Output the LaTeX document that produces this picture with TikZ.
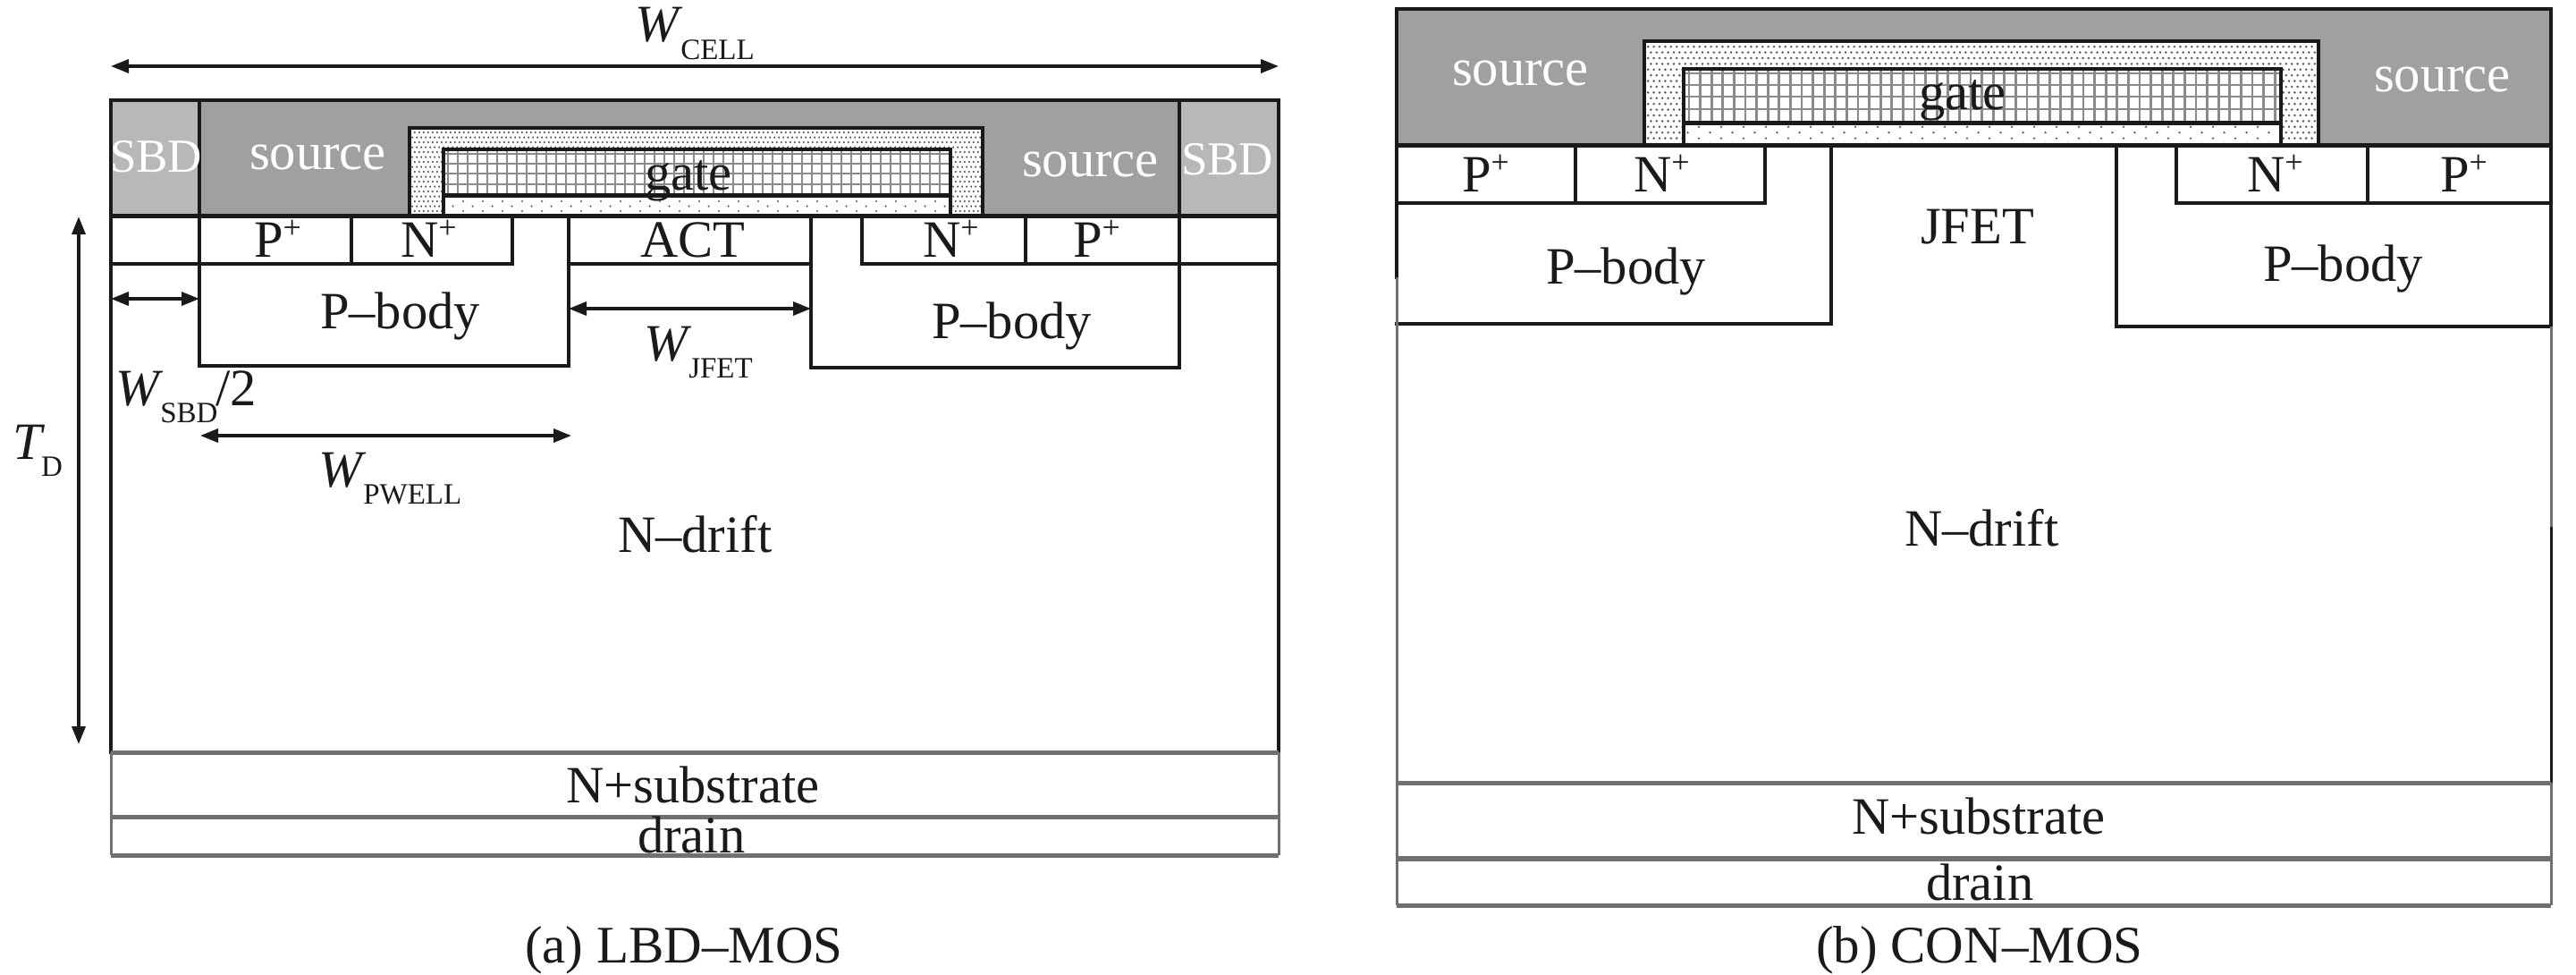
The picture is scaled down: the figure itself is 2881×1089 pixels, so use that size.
\documentclass[tikz,border=0pt]{standalone}
\usepackage{fontspec}
\setmainfont{Liberation Serif}
\usetikzlibrary{arrows.meta,patterns}
\definecolor{ink}{HTML}{1A1A1A}
\definecolor{edgegray}{HTML}{707070}
\definecolor{sourcefill}{HTML}{A0A0A0}
\definecolor{sbdfill}{HTML}{B8B8B8}
\definecolor{dotgray}{HTML}{5A5A5A}
\definecolor{gridgray}{HTML}{8A8A8A}
\pgfdeclarepatternformonly{denseL}{\pgfqpoint{-1pt}{-1pt}}{\pgfqpoint{1.7pt}{4.4pt}}{\pgfqpoint{2.7pt}{5.4pt}}{%
  \pgfpathcircle{\pgfqpoint{0pt}{0pt}}{0.65pt}\pgfpathcircle{\pgfqpoint{1.35pt}{2.7pt}}{0.65pt}\pgfusepath{fill}}
\pgfdeclarepatternformonly{sparseL}{\pgfqpoint{-1pt}{-1pt}}{\pgfqpoint{9.8pt}{4.4pt}}{\pgfqpoint{10.8pt}{5.4pt}}{%
  \pgfpathcircle{\pgfqpoint{0pt}{0pt}}{0.6pt}\pgfpathcircle{\pgfqpoint{5.4pt}{2.7pt}}{0.6pt}\pgfusepath{fill}}
\pgfdeclarepatternformonly{denseR}{\pgfqpoint{-1pt}{-1pt}}{\pgfqpoint{2.2pt}{5.4pt}}{\pgfqpoint{3.2pt}{6.4pt}}{%
  \pgfpathcircle{\pgfqpoint{0pt}{0pt}}{0.7pt}\pgfpathcircle{\pgfqpoint{1.6pt}{3.2pt}}{0.7pt}\pgfusepath{fill}}
\pgfdeclarepatternformonly{sparseR}{\pgfqpoint{-1pt}{-1pt}}{\pgfqpoint{11.5pt}{5.4pt}}{\pgfqpoint{12.5pt}{6.4pt}}{%
  \pgfpathcircle{\pgfqpoint{0pt}{0pt}}{0.65pt}\pgfpathcircle{\pgfqpoint{6.25pt}{3.2pt}}{0.65pt}\pgfusepath{fill}}
\newcommand\dimlab[4]{\textit{#1}\hspace{#4}\raisebox{#3}{\fontsize{16.5}{17}\selectfont #2}}
\newcommand\plus{\raisebox{10.5pt}{\fontsize{18}{18}\selectfont +}}
\tikzset{
  lbl/.style={anchor=base west,inner sep=0pt,outer sep=0pt,text=ink,font=\fontsize{29.3}{30}\selectfont},
  wlbl/.style={lbl,text=white},
  ln/.style={draw=ink,line width=1.75pt,line cap=rect},
  thn/.style={draw=ink,line width=1.5pt,line cap=rect},
  thk/.style={draw=ink,line width=2.5pt},
  gln/.style={draw=edgegray,line width=1.5pt},
  gthk/.style={draw=edgegray,line width=2.5pt},
  gridln/.style={draw=gridgray,line width=1.35pt},
  dimarrow/.style={draw=ink,line width=1.75pt,{Triangle[length=10pt,width=7.5pt]}-{Triangle[length=10pt,width=7.5pt]},shorten >=0pt,shorten <=0pt},
}
\begin{document}
\begin{tikzpicture}[x=0.5pt,y=-0.5pt]
\useasboundingbox (0,0) rectangle (2881,1089);
\fill[white] (0,0) rectangle (2881,1089);

% ---------- (a) LBD-MOS ----------
\fill[sbdfill] (124,112) rectangle (223,241);
\fill[sbdfill] (1319,112) rectangle (1430,241);
\fill[sourcefill] (223,112) rectangle (1319,241);
\fill[white] (458,143) rectangle (1099,241);
\path[pattern=denseL,pattern color=dotgray] (458,143) rectangle (1099,241);
\fill[white] (496,167) rectangle (1063,241);
\path[pattern=sparseL,pattern color=dotgray] (496,218) rectangle (1063,241);
\begin{scope}
\clip (496,167) rectangle (1063,218);
\foreach \gx in {501,512,...,1063} \draw[gridln] (\gx,167) -- (\gx,218);
\foreach \gy in {172,183,194,206} \draw[gridln] (496,\gy) -- (1063,\gy);
\end{scope}
\draw[ln] (458,241) -- (458,143) -- (1099,143) -- (1099,241);
\draw[ln] (496,241) -- (496,167) -- (1063,167) -- (1063,241);
\draw[thk] (496,218) -- (1063,218);
% outer and semiconductor
\draw[ln] (124,841) -- (124,112) -- (1430,112) -- (1430,841);
\draw[ln] (223,112) -- (223,409) -- (636,409) -- (636,241);
\draw[ln] (1319,112) -- (1319,411) -- (907,411) -- (907,241);
\draw[thk] (124,241) -- (1430,241);
\draw[ln] (124,295) -- (573,295) -- (573,241);
\draw[ln] (393,241) -- (393,295);
\draw[ln] (636,295) -- (907,295);
\draw[ln] (964,241) -- (964,295) -- (1430,295);
\draw[ln] (1147,241) -- (1147,295);
\draw[gthk] (124,841) -- (1430,841);
\draw[gthk] (124,913) -- (1430,913);
\draw[gthk] (124,956) -- (1430,956);
\draw[gln] (124,841) -- (124,956);
\draw[gln] (1430,841) -- (1430,956);

% dimension arrows
\coordinate (cellL) at (124,74);
\coordinate (cellR) at (1430,74);
\draw[dimarrow] (cellL) -- (cellR);
\coordinate (tdT) at (88,242);
\coordinate (tdB) at (88,832);
\draw[dimarrow] (tdT) -- (tdB);
\coordinate (sbdL) at (124,334);
\coordinate (sbdR) at (223,334);
\draw[dimarrow] (sbdL) -- (sbdR);
\coordinate (jfetL) at (636,345);
\coordinate (jfetR) at (907,345);
\draw[dimarrow] (jfetL) -- (jfetR);
\coordinate (pwellL) at (224,487);
\coordinate (pwellR) at (639,487);
\draw[dimarrow] (pwellL) -- (pwellR);

% labels (a)
\node[lbl] (wcell) at (710,46) {\dimlab{W}{CELL}{-10pt}{-1pt}};
\node[lbl] (td) at (14,513) {\dimlab{T}{D}{-9.5pt}{-2pt}};
\node[lbl] (wsbd) at (129,453) {\dimlab{W}{SBD}{-9.5pt}{-1.5pt}\hspace{-1pt}/2};
\node[lbl] (wjfet) at (720,403) {\dimlab{W}{JFET}{-9.5pt}{-1.5pt}};
\node[lbl] (wpwell) at (356,544) {\dimlab{W}{PWELL}{-9.5pt}{-1.5pt}};
\node[wlbl,font=\fontsize{26.5}{30}\selectfont] (sbd1) at (123,192) {SBD};
\node[wlbl,font=\fontsize{26.5}{30}\selectfont] (sbd2) at (1321,195) {SBD};
\node[wlbl] (src1) at (279,189) {source};
\node[wlbl] (src2) at (1143,197) {source};
\node[lbl] (gate1) at (721,212) {gate};
\node[lbl] (pp1) at (284,287) {P\plus};
\node[lbl] (np1) at (448,287) {N\plus};
\node[lbl] (act) at (716,287) {ACT};
\node[lbl] (np2) at (1032,287) {N\plus};
\node[lbl] (pp2) at (1200,287) {P\plus};
\node[lbl] (pb1) at (358,367) {P–body};
\node[lbl] (pb2) at (1042,378) {P–body};
\node[lbl] (drift1) at (691,617) {N–drift};
\node[lbl] (sub1) at (633,897) {N+substrate};
\node[lbl] (drain1) at (713,953) {drain};
\node[lbl,font=\fontsize{29.5}{31}\selectfont] (capa) at (587,1076) {(a) LBD–MOS};

% ---------- (b) CON-MOS ----------
\fill[sourcefill] (1562,10) rectangle (2853,162);
\fill[white] (1839,46) rectangle (2593,162);
\path[pattern=denseR,pattern color=dotgray] (1839,46) rectangle (2593,162);
\fill[white] (1883,77) rectangle (2551,162);
\path[pattern=sparseR,pattern color=dotgray] (1883,137) rectangle (2551,162);
\begin{scope}
\clip (1883,77) rectangle (2551,137);
\foreach \gx in {1889,1901.6,...,2551} \draw[gridln] (\gx,77) -- (\gx,137);
\foreach \gy in {82,95,108,122} \draw[gridln] (1883,\gy) -- (2551,\gy);
\end{scope}
\draw[ln] (1839,162) -- (1839,46) -- (2593,46) -- (2593,162);
\draw[ln] (1883,162) -- (1883,77) -- (2551,77) -- (2551,162);
\draw[thk] (1883,137) -- (2551,137);
\draw[ln] (1562,310) -- (1562,10) -- (2853,10) -- (2853,365);
\draw[thk] (1562,162) -- (2853,162);
\draw[ln] (1562,227) -- (1974,227) -- (1974,162);
\draw[ln] (1762,162) -- (1762,227);
\draw[ln] (2434,162) -- (2434,227) -- (2853,227);
\draw[ln] (2648,162) -- (2648,227);
\draw[ln] (1562,362) -- (2048,362) -- (2048,162);
\draw[ln] (2853,365) -- (2367,365) -- (2367,162);
\draw[gln] (1562,310) -- (1562,1012);
\draw[gln] (2853,365) -- (2853,590);
\draw[thn] (2853,590) -- (2853,875);
\draw[gln] (2853,875) -- (2853,1012);
\draw[gthk] (1562,875) -- (2853,875);
\draw[draw=edgegray,line width=3pt] (1562,960) -- (2853,960);
\draw[gthk] (1562,1012) -- (2853,1012);

% labels (b)
\node[wlbl] (src3) at (1624,95) {source};
\node[wlbl] (src4) at (2655,102) {source};
\node[lbl] (gate2) at (2146,122) {gate};
\node[lbl] (pp3) at (1635,214) {P\plus};
\node[lbl] (np3) at (1827,214) {N\plus};
\node[lbl] (np4) at (2513,214) {N\plus};
\node[lbl] (pp4) at (2729,214) {P\plus};
\node[lbl] (pb3) at (1729,317) {P–body};
\node[lbl] (pb4) at (2531,314) {P–body};
\node[lbl] (jfet) at (2148,272) {JFET};
\node[lbl] (drift2) at (2130,610) {N–drift};
\node[lbl] (sub2) at (2071,932) {N+substrate};
\node[lbl] (drain2) at (2154,1006) {drain};
\node[lbl,font=\fontsize{29.5}{31}\selectfont] (capb) at (2031,1076) {(b) CON–MOS};
\end{tikzpicture}
\end{document}
